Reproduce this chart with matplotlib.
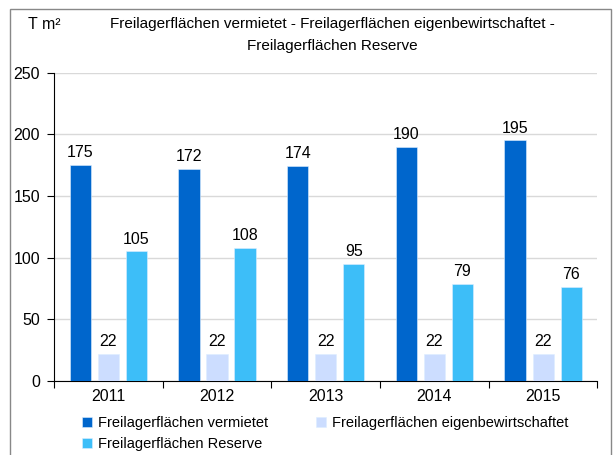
import matplotlib.pyplot as plt
from matplotlib.patches import Rectangle
import numpy as np

jahre = ['2011', '2012', '2013', '2014', '2015']
vermietet = [175, 172, 174, 190, 195]
eigen = [22, 22, 22, 22, 22]
reserve = [105, 108, 95, 79, 76]
serien = ['Freilagerflächen vermietet', 'Freilagerflächen eigenbewirtschaftet',
          'Freilagerflächen Reserve']
farben = ['#0066CC', '#CCDDFF', '#3DBEF8']

plt.rcParams['font.family'] = ['Liberation Sans', 'DejaVu Sans']

fig = plt.figure(figsize=(6.15, 4.55), dpi=100)
fig.patches.append(Rectangle((10 / 615, -0.1), 601 / 615, 1.1 - 9 / 455,
                             transform=fig.transFigure, fill=False,
                             edgecolor='#888888', linewidth=1))
ax = fig.add_axes([0.0878, 0.1626, 0.8837, 0.6778])

x = np.arange(len(jahre))
breite = 0.195
abstand = 0.258
handles = []
for i, (werte, name, farbe) in enumerate(zip([vermietet, eigen, reserve], serien, farben)):
    bars = ax.bar(x + (i - 1) * abstand, werte, breite, color=farbe, label=name,
                  edgecolor='#DDEEFF', linewidth=0.4, zorder=3)
    handles.append(bars)
    for b, v in zip(bars, werte):
        ax.text(b.get_x() + b.get_width() / 2, v + 4, str(v), ha='center', va='bottom',
                fontsize=11.5)

ax.set_xlim(-0.5, len(jahre) - 0.5)
ax.set_ylim(0, 250)
ax.set_yticks(range(0, 251, 50))
ax.grid(axis='y', color='#D9D9D9', linewidth=1, zorder=0)
ax.set_xticks(np.arange(-0.5, len(jahre)), [''] * (len(jahre) + 1))
ax.set_xticks(x, jahre, minor=True)
ax.tick_params(axis='x', which='minor', length=0, labelsize=11.5, pad=6)
ax.tick_params(axis='x', which='major', length=5, direction='out')
ax.tick_params(axis='y', length=5, direction='out', labelsize=11.5, pad=5)
for s in ['top', 'right']:
    ax.spines[s].set_visible(False)

fig.text(0.540, 0.963, 'Freilagerflächen vermietet - Freilagerflächen eigenbewirtschaftet -\n'
         'Freilagerflächen Reserve', ha='center', va='top', fontsize=11, linespacing=1.75)
fig.text(0.072, 0.947, 'T m²', ha='center', va='center', fontsize=11.5)

# Reihenfolge so, dass Zeile 1: vermietet | eigen, Zeile 2: Reserve
reihenfolge = [0, 2, 1]
fig.legend([handles[k] for k in reihenfolge], [serien[k] for k in reihenfolge],
           loc='upper left', bbox_to_anchor=(0.133, 0.086), ncol=2, frameon=False,
           fontsize=10.5, handlelength=0.7, handleheight=0.7, handletextpad=0.4,
           columnspacing=3.3, labelspacing=0.5, borderaxespad=0, borderpad=0)

fig.savefig('out.png', dpi=100)
